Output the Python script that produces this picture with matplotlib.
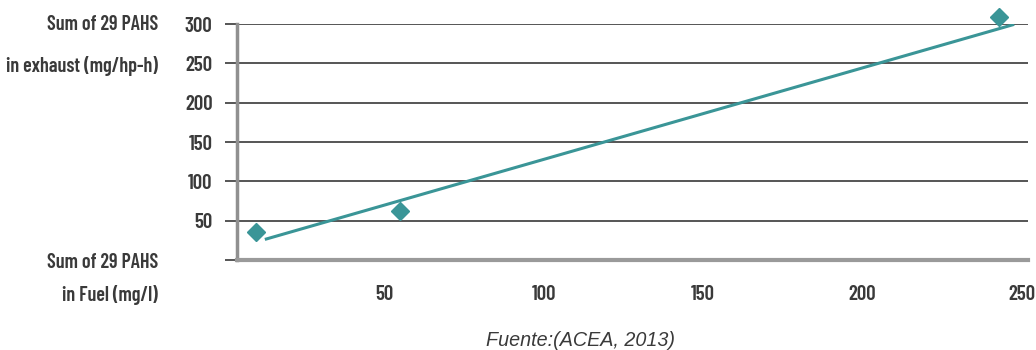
import matplotlib.pyplot as plt

# PAH content in fuel vs. PAH emissions in exhaust
fuel_pahs = [9.8, 54.8, 243.0]        # mg/l
exhaust_pahs = [36.0, 62.3, 309.0]    # mg/hp-h

# linear trend as drawn in the source figure
trend_x = [12.9, 247.2]
trend_y = [26.7, 299.0]

x_ticks = [50, 100, 150, 200, 250]
y_ticks = [0, 50, 100, 150, 200, 250, 300]
y_tick_labels = ['', '50', '100', '150', '200', '250', '300']

teal = '#3a9597'
text_col = '#3a3a3a'
grid_col = '#555555'
narrow = ['Barlow Condensed', 'Asap Condensed', 'Liberation Sans Narrow', 'DejaVu Sans']

fig = plt.figure(figsize=(10.36, 3.5), dpi=100)
ax = fig.add_axes([237 / 1036, 1 - 260 / 350, (1028 - 237) / 1036, 236 / 350])

ax.set_xlim(3.7, 252)
ax.set_ylim(0, 300)

for y in y_ticks[1:]:
    ax.axhline(y, color=grid_col, linewidth=1.4, zorder=1)

ax.plot(trend_x, trend_y, color=teal, linewidth=2.2, zorder=3)
ax.plot(fuel_pahs, exhaust_pahs, linestyle='none', marker='D', markersize=9,
        color=teal, clip_on=False, zorder=4)

for side in ['top', 'right']:
    ax.spines[side].set_visible(False)
ax.spines['left'].set_color('#909090')
ax.spines['left'].set_linewidth(2.5)
ax.spines['bottom'].set_color('#9a9a9a')
ax.spines['bottom'].set_linewidth(3)

ax.set_yticks(y_ticks)
ax.set_yticklabels(y_tick_labels)
ax.set_xticks(x_ticks)
ax.set_xticklabels([str(v) for v in x_ticks])
ax.tick_params(axis='y', length=8.6, width=1.4, color=grid_col, pad=9,
               labelsize=15, labelcolor=text_col)
ax.tick_params(axis='x', length=0, pad=18, labelsize=15, labelcolor=text_col)
for lbl in ax.get_xticklabels() + ax.get_yticklabels():
    lbl.set_fontfamily(narrow)
    lbl.set_fontweight('semibold')

fig.text(158 / 1036, 1 - 15 / 350, 'Sum of 29 PAHS\nin exhaust (mg/hp-h)',
         ha='right', va='top', fontsize=14.5, fontweight='semibold',
         family=narrow, color=text_col, linespacing=2.35)
fig.text(158 / 1036, 1 - 253 / 350, 'Sum of 29 PAHS\nin Fuel (mg/l)',
         ha='right', va='top', fontsize=14.5, fontweight='semibold',
         family=narrow, color=text_col, linespacing=1.8)

fig.text(581 / 1036, 1 - 340 / 350, 'Fuente:(ACEA, 2013)', ha='center',
         va='center', fontsize=14.2, style='italic', family='Liberation Sans',
         color=text_col)

fig.savefig('out.png', dpi=100)
